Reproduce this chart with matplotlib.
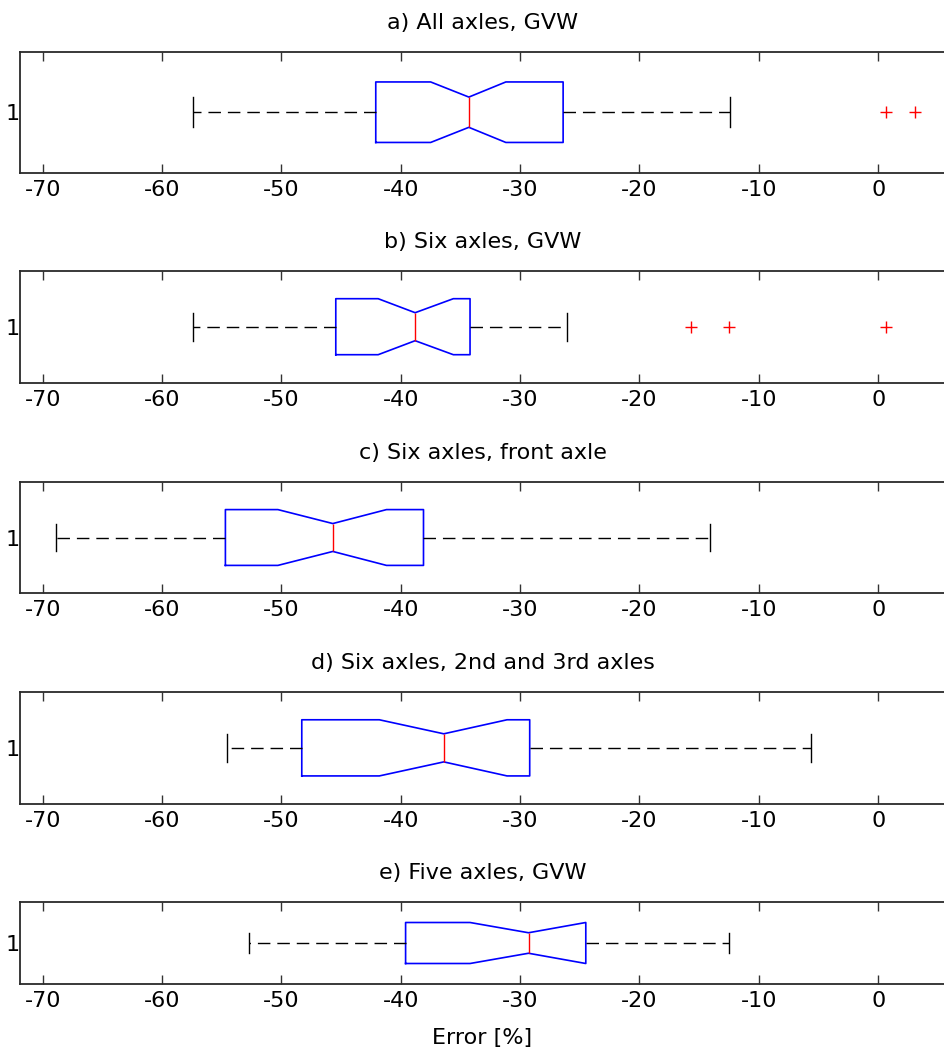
"""
Notched horizontal boxplots of weighing error, one panel per axle group.
"""
import matplotlib
matplotlib.use('Agg')
import matplotlib.pyplot as plt

titles = ['a) All axles, GVW', 'b) Six axles, GVW', 'c) Six axles, front axle',
          'd) Six axles, 2nd and 3rd axles', 'e) Five axles, GVW']

# box statistics (Error [%])
whislo = [-57.4, -57.4, -68.9, -54.6, -52.7]
q1 = [-42.1, -45.45, -54.7, -48.3, -39.6]
cilo = [-37.5, -41.9, -50.3, -41.8, -34.2]
med = [-34.3, -38.8, -45.7, -36.4, -29.3]
cihi = [-31.2, -35.6, -41.2, -31.1, -24.5]
q3 = [-26.4, -34.2, -38.1, -29.2, -24.5]
whishi = [-12.4, -26.1, -14.1, -5.6, -12.5]
fliers = [[0.66, 3.1], [-15.7, -12.5, 0.66], [], [], []]

xticks = [-70, -60, -50, -40, -30, -20, -10, 0]
xlim = (-71.92, 5.6)

# axes boxes in figure pixels: (top, bottom)
W, H = 945, 1054
panels = [(51.7, 172.7), (270.7, 382.7), (481.7, 593.3), (691.7, 804.0), (902.0, 984.0)]
left_px = 19.9

fig = plt.figure(figsize=(W / 100, H / 100), dpi=100)

for i, (top, bot) in enumerate(panels):
    ax = fig.add_axes([left_px / W, 1 - bot / H, 1 - left_px / W, (bot - top) / H])
    stats = [{
        'whislo': whislo[i], 'q1': q1[i], 'med': med[i], 'q3': q3[i],
        'whishi': whishi[i], 'cilo': cilo[i], 'cihi': cihi[i], 'fliers': fliers[i],
    }]
    ax.bxp(stats, positions=[1], widths=0.5, vert=False, shownotches=True,
           boxprops=dict(color='blue', linewidth=1.2),
           medianprops=dict(color='red', linewidth=1.0),
           whiskerprops=dict(color='black', linewidth=1.0, linestyle=(0, (9, 5))),
           capprops=dict(color='black', linewidth=1.0),
           flierprops=dict(marker='+', markeredgecolor='red', markersize=8,
                           markeredgewidth=1.0, linestyle='none'))
    ax.set_xlim(*xlim)
    ax.set_ylim(0.5, 1.5)
    ax.set_xticks(xticks)
    ax.set_xticklabels([str(t) for t in xticks])
    ax.set_yticks([1])
    ax.set_yticklabels(['1'])
    ax.tick_params(axis='x', direction='in', length=6.5, width=1.0, top=True,
                   labelsize=16, pad=5, color='#333333')
    ax.tick_params(axis='y', length=0, labelsize=16, pad=0)
    for side in ['left', 'top', 'bottom']:
        ax.spines[side].set_color('#2a2a2a')
        ax.spines[side].set_linewidth(1.3)
    ax.spines['right'].set_visible(False)
    ax.set_title(titles[i], fontsize=16, pad=16.5)
    if i == len(panels) - 1:
        ax.set_xlabel('Error [%]', fontsize=16, labelpad=12)

fig.savefig('out.png', dpi=100)
